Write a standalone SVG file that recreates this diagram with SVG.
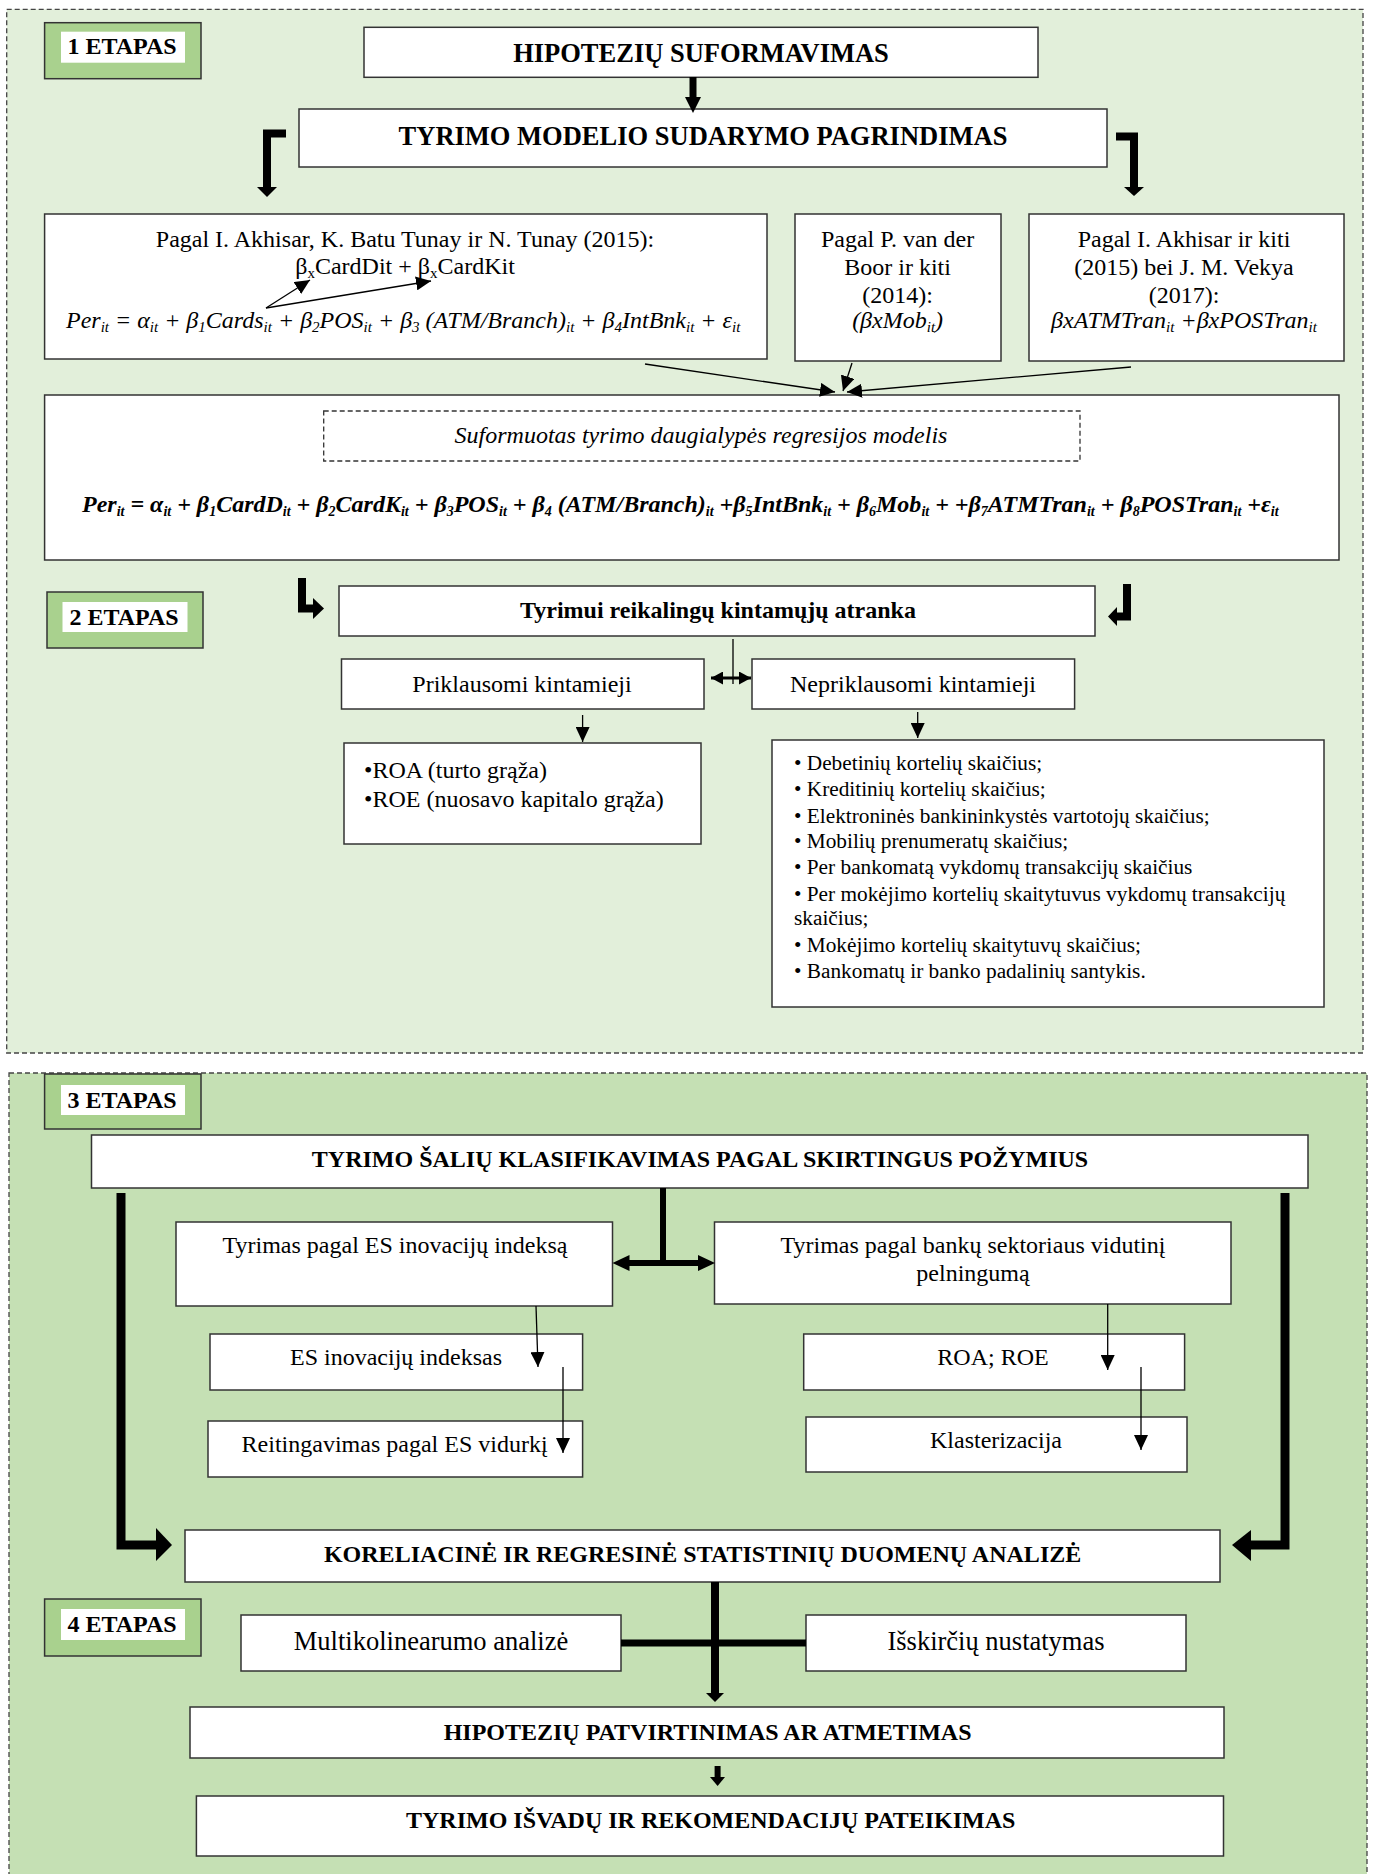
<svg xmlns="http://www.w3.org/2000/svg" width="1373" height="1874" viewBox="0 0 1373 1874">
<defs>
<style>
text{font-family:"Liberation Serif","Times New Roman",serif;fill:#000}
.box{fill:#fff;stroke:#333;stroke-width:1.5}
.dbox{fill:#fff;stroke:#333;stroke-width:1.3;stroke-dasharray:5 3}
.p1{fill:#E2EFDA;stroke:#444;stroke-width:1.3;stroke-dasharray:5 3}
.p2{fill:#C5E0B4;stroke:#444;stroke-width:1.3;stroke-dasharray:5 3}
.lb{fill:#A9D18E;stroke:#333;stroke-width:1.5}
.lw{fill:#fff}
.h1{font-size:26.5px;font-weight:bold;text-anchor:middle}
.h2{font-size:24px;font-weight:bold;text-anchor:middle}
.t{font-size:24px;text-anchor:middle}
.t4{font-size:26.5px;text-anchor:middle}
.tl{font-size:24px}
.li{font-size:21.3px}
.it{font-style:italic}
.sb{font-size:15px}
.sbb{font-size:14px}
.thin{stroke:#000;stroke-width:1.3;fill:none;marker-end:url(#ah)}
.dbl{stroke:#000;stroke-width:3;fill:none;marker-end:url(#ah2);marker-start:url(#ah2)}
.thk{stroke:#000;fill:none;stroke-linejoin:miter}
.hd{fill:#000}
</style>
<marker id="ah" markerUnits="userSpaceOnUse" markerWidth="15" markerHeight="14" refX="15" refY="7" orient="auto"><path d="M0,0 L15,7 L0,14 z" fill="#000"/></marker>
<marker id="ah2" markerUnits="userSpaceOnUse" markerWidth="12" markerHeight="13" refX="12" refY="6.5" orient="auto-start-reverse"><path d="M0,0 L12,6.5 L0,13 z" fill="#000"/></marker>
</defs>

<rect x="0" y="0" width="1373" height="1874" fill="#fff"/>
<rect id="panel1" class="p1" x="6.7" y="9.3" width="1356.3" height="1043.7"/>
<rect id="panel2" class="p2" x="9" y="1073" width="1358" height="820"/>

<g id="etapas1"><rect class="lb" x="44.6" y="22.7" width="156.4" height="56"/><rect class="lw" x="61" y="31.7" width="124" height="31"/><text class="h2" x="122" y="54">1 ETAPAS</text></g>
<g id="hipotezes"><rect class="box" x="364" y="27.3" width="674" height="50"/><text class="h1" x="701" y="61.7">HIPOTEZIŲ SUFORMAVIMAS</text></g>
<g id="modelio"><rect class="box" x="299" y="109" width="808" height="58"/><text class="h1" x="703" y="145">TYRIMO MODELIO SUDARYMO PAGRINDIMAS</text></g>

<g id="boxA"><rect class="box" x="44.6" y="214" width="722.4" height="145"/>
<text class="t" x="405" y="247">Pagal I. Akhisar, K. Batu Tunay ir N. Tunay (2015):</text>
<text class="t" x="405" y="274">β<tspan class="sb" dy="4">x</tspan><tspan dy="-4">CardDit  + β</tspan><tspan class="sb" dy="4">x</tspan><tspan dy="-4">CardKit</tspan></text>
<text class="tl it" x="66" y="328" font-size="23.2">Per<tspan class="sb" dy="4">it</tspan><tspan dy="-4"> = α</tspan><tspan class="sb" dy="4">it</tspan><tspan dy="-4"> + β</tspan><tspan class="sb" dy="4">1</tspan><tspan dy="-4">Cards</tspan><tspan class="sb" dy="4">it</tspan><tspan dy="-4"> + β</tspan><tspan class="sb" dy="4">2</tspan><tspan dy="-4">POS</tspan><tspan class="sb" dy="4">it</tspan><tspan dy="-4"> + β</tspan><tspan class="sb" dy="4">3</tspan><tspan dy="-4"> (ATM/Branch)</tspan><tspan class="sb" dy="4">it</tspan><tspan dy="-4"> +  β</tspan><tspan class="sb" dy="4">4</tspan><tspan dy="-4">IntBnk</tspan><tspan class="sb" dy="4">it</tspan><tspan dy="-4"> + ε</tspan><tspan class="sb" dy="4">it</tspan></text>
</g>
<g id="boxB"><rect class="box" x="795" y="214" width="206" height="147"/>
<text class="t" x="897.6" y="247">Pagal P. van der</text>
<text class="t" x="897.6" y="275">Boor ir kiti</text>
<text class="t" x="897.6" y="303">(2014):</text>
<text class="t it" x="897.6" y="328">(βxMob<tspan class="sb" dy="4">it</tspan><tspan dy="-4">)</tspan></text>
</g>
<g id="boxC"><rect class="box" x="1029" y="214" width="315" height="147"/>
<text class="t" x="1184" y="247">Pagal I. Akhisar ir kiti</text>
<text class="t" x="1184" y="275">(2015) bei J. M. Vekya</text>
<text class="t" x="1184" y="303">(2017):</text>
<text class="t it" x="1184" y="328">βxATMTran<tspan class="sb" dy="4">it</tspan><tspan dy="-4"> +βxPOSTran</tspan><tspan class="sb" dy="4">it</tspan></text>
</g>

<g id="modelis"><rect class="box" x="44.6" y="395" width="1294.4" height="165"/>
<rect class="dbox" x="323.7" y="411" width="756.3" height="50"/>
<text class="t it" x="701" y="443">Suformuotas tyrimo daugialypės regresijos modelis</text>
<text class="tl it" x="82" y="512" font-size="23.4" font-weight="bold">Per<tspan class="sbb" dy="4">it</tspan><tspan dy="-4"> = α</tspan><tspan class="sbb" dy="4">it</tspan><tspan dy="-4"> + β</tspan><tspan class="sbb" dy="4">1</tspan><tspan dy="-4">CardD</tspan><tspan class="sbb" dy="4">it</tspan><tspan dy="-4">  + β</tspan><tspan class="sbb" dy="4">2</tspan><tspan dy="-4">CardK</tspan><tspan class="sbb" dy="4">it</tspan><tspan dy="-4">  + β</tspan><tspan class="sbb" dy="4">3</tspan><tspan dy="-4">POS</tspan><tspan class="sbb" dy="4">it</tspan><tspan dy="-4"> + β</tspan><tspan class="sbb" dy="4">4</tspan><tspan dy="-4"> (ATM/Branch)</tspan><tspan class="sbb" dy="4">it</tspan><tspan dy="-4"> +β</tspan><tspan class="sbb" dy="4">5</tspan><tspan dy="-4">IntBnk</tspan><tspan class="sbb" dy="4">it</tspan><tspan dy="-4"> + β</tspan><tspan class="sbb" dy="4">6</tspan><tspan dy="-4">Mob</tspan><tspan class="sbb" dy="4">it</tspan><tspan dy="-4"> + +β</tspan><tspan class="sbb" dy="4">7</tspan><tspan dy="-4">ATMTran</tspan><tspan class="sbb" dy="4">it</tspan><tspan dy="-4"> + β</tspan><tspan class="sbb" dy="4">8</tspan><tspan dy="-4">POSTran</tspan><tspan class="sbb" dy="4">it</tspan><tspan dy="-4"> +ε</tspan><tspan class="sbb" dy="4">it</tspan></text>
</g>

<g id="etapas2"><rect class="lb" x="47" y="592" width="156" height="56"/><rect class="lw" x="62.5" y="602" width="125" height="30"/><text class="h2" x="124" y="625">2 ETAPAS</text></g>
<g id="atranka"><rect class="box" x="339" y="586" width="756" height="50"/><text class="h2" x="718" y="618">Tyrimui reikalingų kintamųjų atranka</text></g>
<g id="priklausomi"><rect class="box" x="341.5" y="659" width="362.5" height="50"/><text class="t" x="522" y="692">Priklausomi kintamieji</text></g>
<g id="nepriklausomi"><rect class="box" x="752" y="659" width="322.6" height="50"/><text class="t" x="913" y="692">Nepriklausomi kintamieji</text></g>
<g id="roa"><rect class="box" x="344" y="743" width="357" height="101"/>
<text class="tl" x="364" y="778">•ROA (turto grąža)</text>
<text class="tl" x="364" y="807">•ROE (nuosavo kapitalo grąža)</text>
</g>
<g id="sarasas"><rect class="box" x="772" y="740" width="552" height="267"/>
<text class="li" x="794" y="770">• Debetinių kortelių skaičius;</text>
<text class="li" x="794" y="796">• Kreditinių kortelių skaičius;</text>
<text class="li" x="794" y="823">• Elektroninės bankininkystės vartotojų skaičius;</text>
<text class="li" x="794" y="848">• Mobilių prenumeratų skaičius;</text>
<text class="li" x="794" y="874">• Per bankomatą vykdomų transakcijų skaičius</text>
<text class="li" x="794" y="901">• Per mokėjimo kortelių skaitytuvus vykdomų transakcijų</text>
<text class="li" x="794" y="925">skaičius;</text>
<text class="li" x="794" y="952">• Mokėjimo kortelių skaitytuvų skaičius;</text>
<text class="li" x="794" y="978">• Bankomatų ir banko padalinių santykis.</text>
</g>

<g id="etapas3"><rect class="lb" x="44.6" y="1074" width="156.4" height="55"/><rect class="lw" x="61" y="1085" width="124" height="30"/><text class="h2" x="122" y="1108">3 ETAPAS</text></g>
<g id="klasifikavimas"><rect class="box" x="91.5" y="1135" width="1216.5" height="53"/><text class="h2" x="700" y="1167">TYRIMO ŠALIŲ KLASIFIKAVIMAS PAGAL SKIRTINGUS POŽYMIUS</text></g>
<g id="esindeksas"><rect class="box" x="176" y="1222" width="436.5" height="84"/><text class="t" x="395" y="1253">Tyrimas pagal ES inovacijų indeksą</text></g>
<g id="pelningumas"><rect class="box" x="714.5" y="1222" width="516.5" height="82"/><text class="t" x="973" y="1253">Tyrimas pagal bankų sektoriaus vidutinį</text><text class="t" x="973" y="1281">pelningumą</text></g>
<g id="esi"><rect class="box" x="210" y="1334" width="372.6" height="56"/><text class="t" x="396" y="1365">ES inovacijų indeksas</text></g>
<g id="reitingavimas"><rect class="box" x="208" y="1421" width="374.6" height="56"/><text class="t" x="394.6" y="1452">Reitingavimas pagal ES vidurkį</text></g>
<g id="roaroe"><rect class="box" x="803.7" y="1334" width="380.9" height="56"/><text class="t" x="993" y="1365">ROA; ROE</text></g>
<g id="klasterizacija"><rect class="box" x="806" y="1417" width="381" height="55"/><text class="t" x="996" y="1448">Klasterizacija</text></g>

<g id="koreliacine"><rect class="box" x="185" y="1530" width="1035" height="52"/><text class="h2" x="702.6" y="1562">KORELIACINĖ IR REGRESINĖ STATISTINIŲ DUOMENŲ ANALIZĖ</text></g>
<g id="etapas4"><rect class="lb" x="44.6" y="1599" width="156.4" height="57"/><rect class="lw" x="61" y="1609" width="124" height="31"/><text class="h2" x="122" y="1632">4 ETAPAS</text></g>
<g id="multikolinearumo"><rect class="box" x="241" y="1615" width="380" height="56"/><text class="t4" x="431" y="1650">Multikolinearumo analizė</text></g>
<g id="isskirciu"><rect class="box" x="806" y="1615" width="380" height="56"/><text class="t4" x="996" y="1650">Išskirčių nustatymas</text></g>
<g id="patvirtinimas"><rect class="box" x="190" y="1707" width="1034" height="51"/><text class="h2" x="707.6" y="1740">HIPOTEZIŲ PATVIRTINIMAS AR ATMETIMAS</text></g>
<g id="isvados"><rect class="box" x="196.4" y="1796" width="1027.1" height="60"/><text class="h2" x="710.7" y="1828">TYRIMO IŠVADŲ IR REKOMENDACIJŲ PATEIKIMAS</text></g>

<g id="connectors">
<path class="thk" stroke-width="7" d="M693,77 V98"/><polygon class="hd" points="685,97 701,97 693,113"/>
<path class="thk" stroke-width="8" d="M286,133.5 H267 V188"/><polygon class="hd" points="257,187 277,187 267,197"/>
<path class="thk" stroke-width="8" d="M1116,136.5 H1134 V188"/><polygon class="hd" points="1124,187 1144,187 1134,196"/>
<path class="thin" d="M266,308 L310,280"/>
<path class="thin" d="M266,308 L431,281"/>
<path class="thin" d="M645,364 L835,392"/>
<path class="thin" d="M852,363 L843,391"/>
<path class="thin" d="M1131,367 L847,392"/>
<path class="thk" stroke-width="8" d="M302,578 V608.5 H314"/><polygon class="hd" points="313,598 313,619 324,608.5"/>
<path class="thk" stroke-width="8" d="M1127,584 V616.5 H1116"/><polygon class="hd" points="1117,607 1117,626 1108,616.5"/>
<path d="M733,639 V684" stroke="#000" stroke-width="1.3"/>
<path class="dbl" d="M711,678 H751"/>
<path class="thin" d="M582.6,715 V742"/>
<path class="thin" d="M917.7,712 V738"/>
<path class="thk" stroke-width="9" d="M121,1193 V1545 H157"/><polygon class="hd" points="156,1528 156,1561 172,1545"/>
<path class="thk" stroke-width="9" d="M1285,1193 V1545 H1250"/><polygon class="hd" points="1251,1530 1251,1561 1232,1545"/>
<path class="thk" stroke-width="6" d="M663,1188 V1263"/>
<path class="thk" stroke-width="6" d="M628,1263 H699"/>
<polygon class="hd" points="629.5,1255 629.5,1271 612.5,1263"/><polygon class="hd" points="698,1255 698,1271 715,1263"/>
<path class="thin" d="M536,1306 L538,1367"/>
<path class="thin" d="M563,1367 V1453"/>
<path class="thin" d="M1107.7,1304 V1370"/>
<path class="thin" d="M1141,1367 V1450"/>
<path class="thk" stroke-width="7" d="M621,1643 H806"/>
<path class="thk" stroke-width="8" d="M715,1582 V1694"/><polygon class="hd" points="706,1693 724,1693 715,1702"/>
<path class="thk" stroke-width="6" d="M717.6,1766 V1778"/><polygon class="hd" points="710,1777 725,1777 717.6,1786"/>
</g>
</svg>
